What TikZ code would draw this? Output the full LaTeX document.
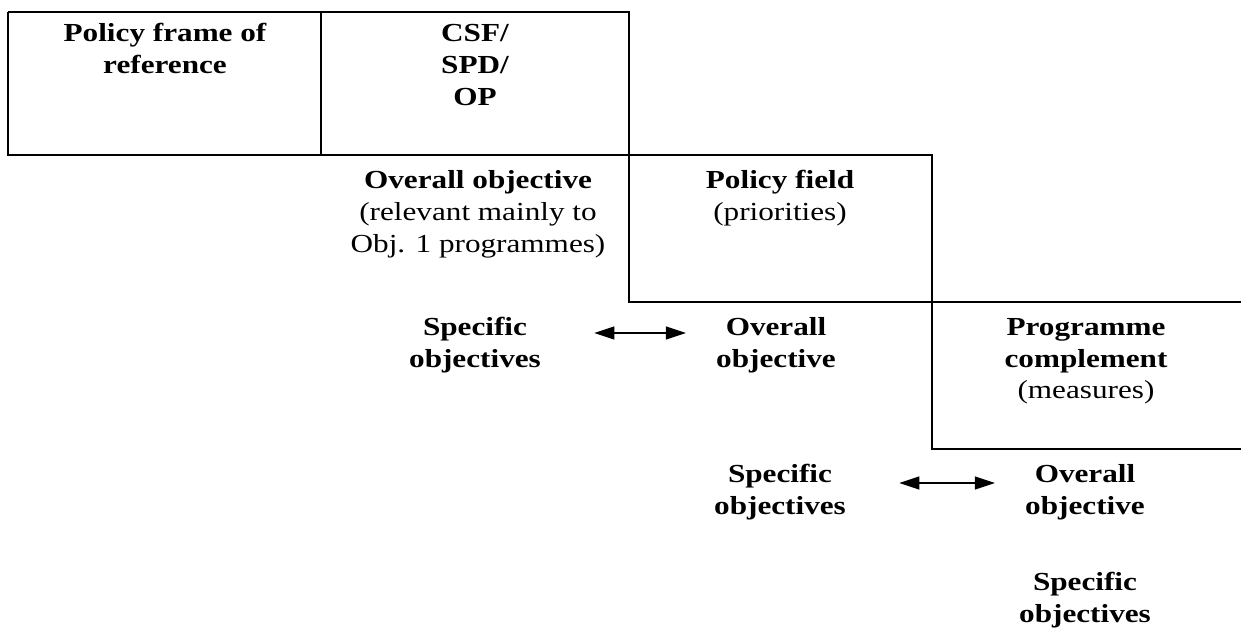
\documentclass[tikz,border=0pt]{standalone}
\usepackage{fontspec}
\setmainfont[FakeStretch=1.2]{Liberation Serif}
\usetikzlibrary{arrows.meta}

\begin{document}
\begin{tikzpicture}[x=0.5pt,y=-0.5pt,
    lbl/.style={align=center,anchor=base,inner sep=0pt,font=\fontsize{13}{16}\selectfont\bfseries},
    link/.style={line width=0.6pt,{Triangle[length=10pt,width=6.5pt]}-{Triangle[length=10pt,width=6.5pt]}}]
    \useasboundingbox (0,0) rectangle (1241,630);

    % Staircase frame
    \draw[line width=1pt] (8,12) -- (629,12) -- (629,302) -- (1241,302);
    \draw[line width=1pt] (8,12) -- (8,155) -- (932,155) -- (932,449) -- (1241,449);
    \draw[line width=1pt] (321,12) -- (321,155);

    % Top level (nodes sit on the baseline of their last line)
    \node[lbl] (frame) at (165,74) {Policy frame of\\reference};
    \node[lbl] (csf) at (475,106) {CSF/\\SPD/\\OP};

    % Second level
    \node[lbl] (aim) at (478,253) {Overall objective\\{\normalfont(relevant mainly to}\\{\normalfont Obj. 1 programmes)}};
    \node[lbl] (field) at (780,221) {Policy field\\{\normalfont(priorities)}};

    % Third level
    \node[lbl] (spectwo) at (475,367) {Specific\\objectives};
    \node[lbl] (overtwo) at (776,367) {Overall\\objective};
    \node[lbl] (prog) at (1086,399) {Programme\\complement\\{\normalfont(measures)}};
    \draw[link] ([xshift=26.5pt,yshift=17pt]spectwo.base east) -- ([xshift=-15pt,yshift=17pt]overtwo.base west);

    % Fourth level
    \node[lbl] (specthree) at (780,514) {Specific\\objectives};
    \node[lbl] (overthree) at (1085,514) {Overall\\objective};
    \node[lbl] (specfour) at (1085,622) {Specific\\objectives};
    \draw[link] ([xshift=26.5pt,yshift=15.5pt]specthree.base east) -- ([xshift=-15pt,yshift=15.5pt]overthree.base west);
\end{tikzpicture}
\end{document}
